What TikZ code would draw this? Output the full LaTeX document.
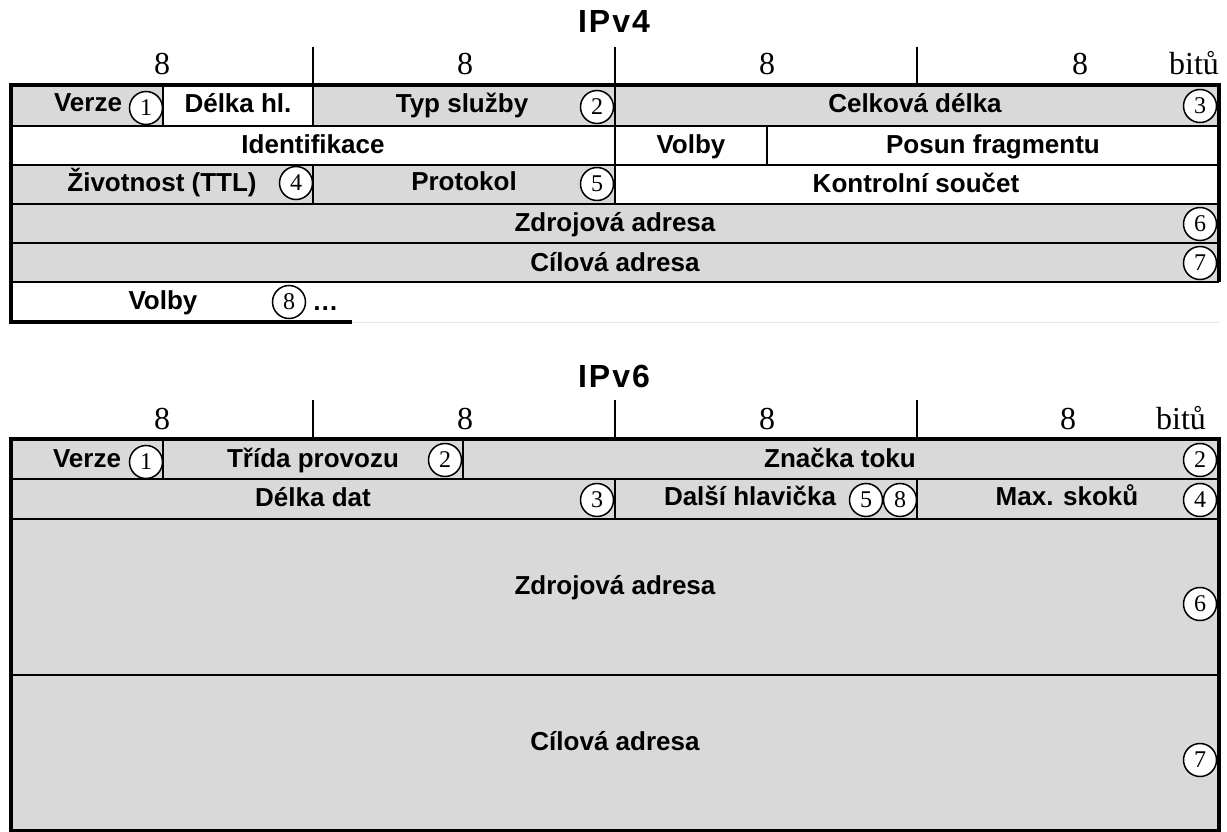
\documentclass[tikz,border=0pt]{standalone}
\usepackage{fontspec}
\setmainfont{Liberation Serif}
\setsansfont{Liberation Sans}
\usetikzlibrary{positioning}
\definecolor{hdrgray}{RGB}{217,217,217}
\tikzset{
  fld/.style={font=\sffamily\bfseries\fontsize{26}{30}\selectfont,anchor=base,inner sep=0pt},
  nr/.style={circle,draw,line width=1.5pt,fill=white,minimum size=33pt,inner sep=0pt,
    font=\fontsize{24}{26}\selectfont},
  bitlbl/.style={font=\fontsize{32}{36}\selectfont,anchor=base,inner sep=0pt},
  ttl/.style={font=\sffamily\bfseries\fontsize{32}{36}\selectfont\addfontfeatures{LetterSpace=6},
    anchor=base,inner sep=0pt},
  rowln/.style={line width=2pt},
  divln/.style={line width=1.5pt},
  frame/.style={line width=4pt}
}

\begin{document}
\begin{tikzpicture}[x=1pt,y=-1pt]
\useasboundingbox (0,0) rectangle (1227,832);

% ---------------- IPv4 ----------------
\node[ttl] (t4) at (614,33) {IPv4};
\foreach \x/\n in {162/a,465/b,767/c,1080/d}
  \node[bitlbl] (w4\n) at (\x,75) {8};
\node[bitlbl] (u4) at (1194,75) {bitů};
\foreach \x in {313,615,917}
  \draw[divln] (\x,47) -- (\x,85);

\fill[hdrgray] (11,85) rectangle (163,126);
\fill[hdrgray] (313,85) rectangle (1219,126);
\fill[hdrgray] (11,165) rectangle (615,204);
\fill[hdrgray] (11,204) rectangle (1219,282);

\node[nr] (v4c1) at (146,108) {1};
\node[nr] (v4c2) at (597,107) {2};
\node[nr] (v4c3) at (1200,106) {3};
\node[nr] (v4c4) at (296,183) {4};
\node[nr] (v4c5) at (597,184) {5};
\node[nr] (v4c6) at (1200,224) {6};
\node[nr] (v4c7) at (1200,263) {7};
\node[nr] (v4c8) at (289,302) {8};

\foreach \y in {126,165,204,243,282}
  \draw[rowln] (11,\y) -- (1219,\y);
\draw[divln] (163,85) -- (163,126);
\draw[divln] (313,85) -- (313,126);
\draw[divln] (615,85) -- (615,204);
\draw[divln] (767,126) -- (767,165);
\draw[divln] (313,165) -- (313,204);
\draw[line width=1pt,gray!20] (352,322) -- (1219,322);
\draw[frame] (352,322) -- (11,322) -- (11,85) -- (1219,85) -- (1219,282);

\node[fld] (verze4) at (88,112) {Verze};
\node[fld] (delka) at (238,113) {Délka hl.};
\node[fld] (tos) at (462,113) {Typ služby};
\node[fld] (celk) at (915,113) {Celková délka};
\node[fld] (ident) at (313,154) {Identifikace};
\node[fld] (flags) at (691,154) {Volby};
\node[fld] (posun) at (993,154) {Posun fragmentu};
\node[fld] (ttl) at (162,192) {Životnost (TTL)};
\node[fld] (proto) at (464,191) {Protokol};
\node[fld] (csum) at (916,193) {Kontrolní součet};
\node[fld] (src4) at (615,232) {Zdrojová adresa};
\node[fld] (dst4) at (615,271) {Cílová adresa};
\node[fld] (opt4) at (163,309) {Volby};
\node[fld,anchor=base west,right=6pt of v4c8.east |- opt4.base] (dots) {…};

% ---------------- IPv6 ----------------
\node[ttl] (t6) at (614,387) {IPv6};
\foreach \x/\n in {162/a,465/b,767/c,1068/d}
  \node[bitlbl] (w6\n) at (\x,429) {8};
\node[bitlbl] (u6) at (1181,429) {bitů};
\foreach \x in {313,615,917}
  \draw[divln] (\x,400) -- (\x,439);

\fill[hdrgray] (11,439) rectangle (1219,831);

\node[nr] (v6c1) at (146,462) {1};
\node[nr] (v6c2a) at (445,460) {2};
\node[nr] (v6c2b) at (1200,460) {2};
\node[nr] (v6c3) at (597,500) {3};
\node[nr] (v6c5) at (866,500) {5};
\node[nr] (v6c8) at (900,500) {8};
\node[nr] (v6c4) at (1200,500) {4};
\node[nr] (v6c6) at (1200,604) {6};
\node[nr] (v6c7) at (1200,760) {7};

\foreach \y in {479,519,675}
  \draw[rowln] (11,\y) -- (1219,\y);
\draw[divln] (163,439) -- (163,479);
\draw[divln] (463,439) -- (463,479);
\draw[divln] (615,479) -- (615,519);
\draw[divln] (917,479) -- (917,519);
\draw[frame] (11,439) rectangle (1219,831);

\node[fld] (verze6) at (87,467) {Verze};
\node[fld] (trida) at (313,467) {Třída provozu};
\node[fld] (flow) at (840,467) {Značka toku};
\node[fld] (plen) at (313,506) {Délka dat};
\node[fld] (next) at (750,505) {Další hlavička};
\node[fld] (hops) at (1067,505) {Max. skoků};
\node[fld] (src6) at (615,594) {Zdrojová adresa};
\node[fld] (dst6) at (615,750) {Cílová adresa};
\end{tikzpicture}
\end{document}
